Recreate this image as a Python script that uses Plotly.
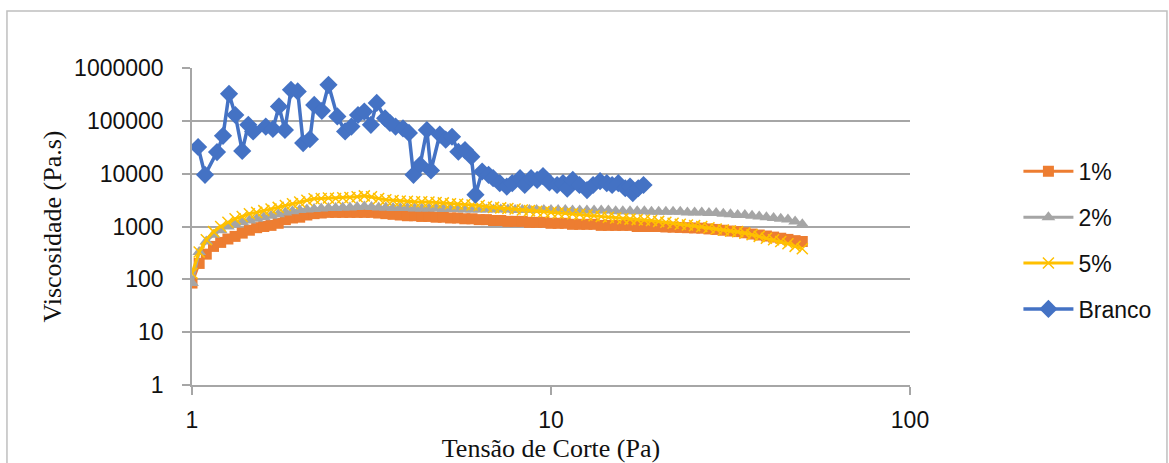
import plotly.graph_objects as go

# Shear stress (Pa) shared by the 1 %, 2 % and 5 % samples
tensao = [1.000, 1.047, 1.096, 1.148, 1.202, 1.259, 1.318, 1.380, 1.445, 1.514,
          1.585, 1.660, 1.738, 1.820, 1.905, 1.995, 2.089, 2.188, 2.291, 2.399,
          2.512, 2.630, 2.754, 2.884, 3.020, 3.162, 3.311, 3.467, 3.631, 3.802,
          3.981, 4.169, 4.365, 4.571, 4.786, 5.012, 5.248, 5.495, 5.754, 6.026,
          6.310, 6.607, 6.918, 7.244, 7.586, 7.943, 8.318, 8.710, 9.120, 9.550,
          10.00, 10.47, 10.96, 11.48, 12.02, 12.59, 13.18, 13.80, 14.45, 15.14,
          15.85, 16.60, 17.38, 18.20, 19.05, 19.95, 20.89, 21.88, 22.91, 23.99,
          25.12, 26.30, 27.54, 28.84, 30.20, 31.62, 33.11, 34.67, 36.31, 38.02,
          39.81, 41.69, 43.65, 45.71, 47.86, 50.12]

visc_1 = [85, 200, 300, 420, 500, 580, 650, 750, 850, 950,
          1000, 1050, 1150, 1350, 1450, 1500, 1650, 1750, 1800, 1850,
          1850, 1850, 1850, 1850, 1850, 1850, 1800, 1750, 1700, 1650,
          1600, 1600, 1550, 1550, 1500, 1500, 1450, 1450, 1400, 1400,
          1350, 1350, 1300, 1300, 1250, 1250, 1250, 1200, 1200, 1200,
          1150, 1150, 1150, 1100, 1100, 1100, 1100, 1050, 1050, 1050,
          1050, 1050, 1000, 1000, 1000, 1000, 980, 970, 960, 950,
          940, 930, 900, 880, 850, 820, 800, 760, 720, 690,
          660, 630, 600, 570, 540, 520]

visc_2 = [85, 330, 520, 700, 850, 1000, 1100, 1200, 1300, 1400,
          1500, 1600, 1700, 1850, 1950, 2050, 2100, 2150, 2200, 2250,
          2250, 2300, 2300, 2350, 2400, 2350, 2300, 2300, 2250, 2250,
          2250, 2200, 2200, 2200, 2200, 2150, 2150, 2150, 2100, 2100,
          2100, 2100, 2100, 2100, 2100, 2050, 2050, 2050, 2050, 2050,
          2050, 2050, 2050, 2000, 2000, 2000, 2000, 2000, 2000, 1950,
          1950, 1950, 1950, 1950, 1900, 1900, 1900, 1900, 1900, 1850,
          1850, 1850, 1800, 1800, 1750, 1700, 1650, 1650, 1600, 1550,
          1500, 1450, 1400, 1350, 1250, 1100]

visc_5 = [130, 330, 560, 800, 1000, 1200, 1400, 1550, 1750, 1850,
          2000, 2150, 2300, 2500, 2700, 2900, 3150, 3350, 3400, 3450,
          3400, 3500, 3550, 3650, 3800, 3650, 3400, 3200, 3100, 3050,
          3000, 2950, 2950, 2900, 2850, 2800, 2700, 2650, 2600, 2550,
          2500, 2400, 2300, 2250, 2200, 2150, 2050, 2000, 1950, 1900,
          1850, 1800, 1800, 1750, 1700, 1650, 1600, 1550, 1500, 1450,
          1400, 1380, 1350, 1330, 1300, 1250, 1200, 1150, 1100, 1070,
          1040, 1000, 950, 900, 860, 820, 800, 750, 700, 650,
          600, 560, 520, 470, 420, 380]

# Blank sample (Branco)
tensao_branco = [1.04, 1.087, 1.174, 1.22, 1.268, 1.32, 1.38, 1.435, 1.48, 1.605,
                 1.68, 1.747, 1.815, 1.887, 1.97, 2.04, 2.13, 2.19, 2.3, 2.4,
                 2.54, 2.67, 2.78, 2.9, 3.02, 3.15, 3.27, 3.45, 3.56, 3.69,
                 3.87, 4.02, 4.14, 4.32, 4.51, 4.63, 4.9, 5.09, 5.3, 5.52,
                 5.76, 6.0, 6.16, 6.43, 6.7, 6.9, 7.2, 7.53, 7.8, 8.2,
                 8.45, 8.8, 9.15, 9.5, 9.9, 10.4, 10.8, 11.1, 11.5, 12.0,
                 12.6, 13.1, 13.7, 14.3, 14.8, 15.4, 16.1, 16.6, 16.9, 17.5,
                 18.1]
visc_branco = [32000, 9500, 25600, 52000, 325000, 129000, 27000, 84000, 63000, 78000,
               70000, 187000, 67000, 387000, 360000, 38000, 45000, 200000, 155000, 480000,
               121000, 63000, 78000, 129000, 150000, 84000, 218000, 112000, 91000, 78000,
               72000, 59000, 9500, 14700, 67000, 11500, 55000, 44000, 50000, 26000,
               28000, 21000, 4000, 11000, 9500, 8200, 6600, 5700, 6600, 8200,
               6100, 8200, 7600, 9000, 6800, 6100, 6600, 5200, 7600, 6100,
               4900, 6100, 7200, 6600, 6100, 6600, 5300, 5700, 4300, 5300,
               6100]

y_ticks = [1, 10, 100, 1000, 10000, 100000, 1000000]
x_ticks = [1, 10, 100]

GRID = "#a6a6a6"
TICK_FONT = dict(family="Liberation Sans", size=23, color="#111111")
TITLE_FONT = dict(family="Liberation Serif", size=26, color="#111111")

fig = go.Figure()

fig.add_trace(go.Scatter(
    x=tensao, y=visc_1, name="1%", mode="lines+markers", legendgroup="a",
    line=dict(color="#ED7D31", width=3),
    marker=dict(symbol="square", size=11, color="#ED7D31"),
))
fig.add_trace(go.Scatter(
    x=tensao, y=visc_2, name="2%", mode="lines+markers", legendgroup="b",
    line=dict(color="#A5A5A5", width=3),
    marker=dict(symbol="triangle-up", size=12, color="#A5A5A5"),
))
fig.add_trace(go.Scatter(
    x=tensao, y=visc_5, name="5%", mode="lines+markers", legendgroup="c",
    line=dict(color="#FFC000", width=3),
    marker=dict(symbol="x-thin", size=11, color="#FFC000",
                line=dict(color="#FFC000", width=1.5)),
))
fig.add_trace(go.Scatter(
    x=tensao_branco, y=visc_branco, name="Branco", mode="lines+markers", legendgroup="d",
    line=dict(color="#4472C4", width=3.5),
    marker=dict(symbol="diamond", size=14, color="#4472C4"),
))

fig.update_xaxes(
    type="log", range=[0, 2], tickvals=x_ticks, ticktext=[str(v) for v in x_ticks],
    showgrid=False, showline=True, linecolor=GRID, linewidth=1.5,
    ticks="outside", ticklen=8, tickcolor=GRID, tickwidth=1.5,
    tickfont=TICK_FONT, ticklabelstandoff=6, zeroline=False, automargin=False,
    title=dict(text="Tensão de Corte (Pa)", font=TITLE_FONT, standoff=18),
)
fig.update_yaxes(
    type="log", range=[0, 6], tickvals=y_ticks, ticktext=[str(v) for v in y_ticks],
    showgrid=True, gridcolor=GRID, gridwidth=1.5,
    showline=True, linecolor=GRID, linewidth=1.5,
    ticks="outside", ticklen=8, tickcolor=GRID, tickwidth=1.5,
    tickfont=TICK_FONT, ticklabelstandoff=14, zeroline=False, automargin=False,
    title=dict(text="Viscosidade (Pa.s)", font=TITLE_FONT, standoff=5),
)

fig.update_layout(
    width=1169, height=463,
    margin=dict(l=192, r=259, t=68, b=78, autoexpand=False),
    paper_bgcolor="white", plot_bgcolor="white",
    showlegend=True,
    legend=dict(
        x=1.151, y=0.742, xanchor="left", yanchor="top",
        font=dict(family="Liberation Sans", size=23, color="#111111"),
        tracegroupgap=13, itemwidth=50, bgcolor="rgba(0,0,0,0)",
    ),
    shapes=[dict(
        type="rect", xref="paper", yref="paper",
        x0=-0.2577, x1=1.3579, y0=-0.30, y1=1.1798,
        line=dict(color="#bfbfbf", width=1.5), layer="below",
    )],
)

fig.write_html("out.html")
